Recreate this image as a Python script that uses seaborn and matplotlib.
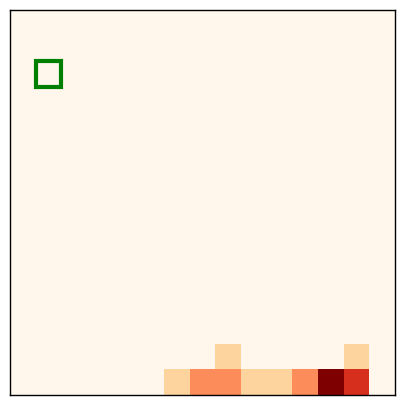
import numpy as np
import matplotlib
matplotlib.use("Agg")
import matplotlib.pyplot as plt
from matplotlib.patches import Rectangle
import seaborn as sns

grid_size = 15

# nonzero cells (row, col, value)
cell_rows = [14, 14, 14, 14, 14, 14, 14, 14, 13, 13]
cell_cols = [6, 7, 8, 9, 10, 11, 12, 13, 8, 13]
cell_vals = [1, 2, 2, 1, 1, 2, 4, 3, 1, 1]

# highlighted cell (row, col)
mark_row = 2
mark_col = 1

grid = np.zeros((grid_size, grid_size))
for r, c, v in zip(cell_rows, cell_cols, cell_vals):
  grid[r, c] = v

fig = plt.figure(figsize=(4.05, 4.05), dpi=100)
ax = fig.add_axes([10/405, 10/405, 385/405, 385/405])

sns.heatmap(grid, cmap="OrRd", vmin=0, vmax=max(cell_vals), cbar=False,
            xticklabels=False, yticklabels=False, ax=ax)

ax.add_patch(Rectangle((mark_col, mark_row), 1, 1, fill=False,
                       edgecolor="green", linewidth=3))

for s in ax.spines.values():
  s.set_visible(True)
  s.set_color("black")
  s.set_linewidth(1)

plt.savefig("out.png", dpi=100)
